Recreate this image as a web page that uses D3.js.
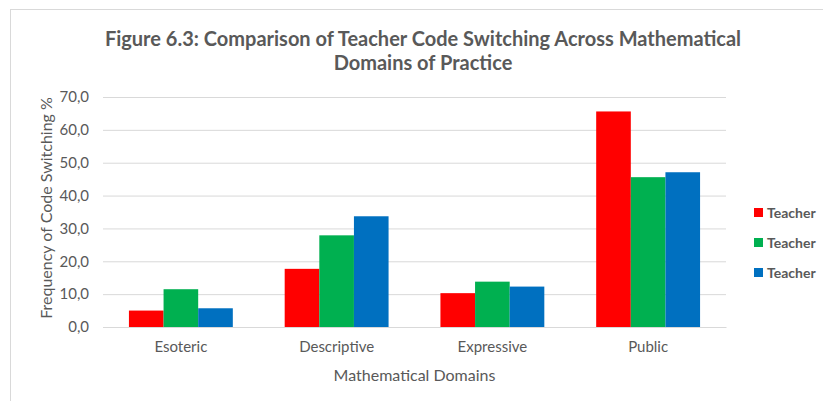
<!DOCTYPE html>
<html>
<head>
<meta charset="utf-8">
<script src="https://cdn.jsdelivr.net/npm/d3@7"></script>
<style>
  body { margin: 0; background: #fff; }
  text { font-family: Lato, "Open Sans", sans-serif; fill: #595959; }
</style>
</head>
<body>
<svg id="chart" width="823" height="401"></svg>
<script>
// data
var domains = ["Esoteric", "Descriptive", "Expressive", "Public"];
var seriesNames = ["Teacher", "Teacher", "Teacher"];
var seriesColors = ["#FF0000", "#00B050", "#0070C0"];
var teacherA = [5.0, 17.7, 10.3, 65.6];
var teacherB = [11.5, 27.9, 13.8, 45.6];
var teacherC = [5.7, 33.7, 12.3, 47.1];
var yTicks = [0, 10, 20, 30, 40, 50, 60, 70];

var series = [teacherA, teacherB, teacherC];

var margin = {top: 97, right: 97, bottom: 74, left: 103},
    width = 823 - margin.left - margin.right,
    height = 401 - margin.top - margin.bottom;

var svg = d3.select("#chart");

// chart frame
svg.append("rect")
    .attr("x", 10.5).attr("y", 9.5)
    .attr("width", 830).attr("height", 420)
    .attr("fill", "none")
    .attr("stroke", "#D9D9D9");

svg.append("text")
    .attr("x", 423).attr("y", 46)
    .attr("text-anchor", "middle")
    .style("font-size", "20px").style("font-weight", "bold")
    .text("Figure 6.3: Comparison of Teacher Code Switching Across Mathematical");
svg.append("text")
    .attr("x", 423).attr("y", 70)
    .attr("text-anchor", "middle")
    .style("font-size", "20px").style("font-weight", "bold")
    .text("Domains of Practice");

var g = svg.append("g")
    .attr("transform", "translate(" + margin.left + "," + margin.top + ")");

var x = d3.scaleBand()
    .domain(domains)
    .range([0, width])
    .paddingInner(0.333)
    .paddingOuter(0.1665);

var xs = d3.scaleBand()
    .domain(d3.range(series.length))
    .range([0, x.bandwidth()]);

var y = d3.scaleLinear()
    .domain([0, 70])
    .range([height, 0]);

// gridlines
var yAxis = d3.axisLeft(y)
    .tickValues(yTicks)
    .tickSize(-width)
    .tickPadding(14)
    .tickFormat(function(d) { return d3.format(".1f")(d).replace(".", ","); });

var ya = g.append("g").call(yAxis);
ya.select(".domain").remove();
ya.selectAll(".tick line").attr("stroke", "#D9D9D9");
ya.selectAll(".tick text").style("font-size", "15px").style("fill", "#595959");

var groups = g.selectAll(".grp")
    .data(domains)
  .enter().append("g")
    .attr("class", "grp")
    .attr("transform", function(d) { return "translate(" + x(d) + ",0)"; });

groups.selectAll("rect")
    .data(function(d, i) { return series.map(function(s, k) { return {k: k, v: s[i]}; }); })
  .enter().append("rect")
    .attr("x", function(d) { return xs(d.k); })
    .attr("width", xs.bandwidth())
    .attr("y", function(d) { return y(d.v); })
    .attr("height", function(d) { return height - y(d.v); })
    .attr("fill", function(d) { return seriesColors[d.k]; });

var xAxis = d3.axisBottom(x).tickSize(0).tickPadding(14);
var xa = g.append("g")
    .attr("transform", "translate(0," + height + ")")
    .call(xAxis);
xa.select(".domain").attr("stroke", "#D9D9D9");
xa.selectAll(".tick text").style("font-size", "15px").style("fill", "#595959");

svg.append("text")
    .attr("x", margin.left + width / 2).attr("y", 381)
    .attr("text-anchor", "middle")
    .style("font-size", "16px")
    .text("Mathematical Domains");

svg.append("text")
    .attr("transform", "translate(52," + (margin.top + height / 2 - 4) + ") rotate(-90)")
    .attr("text-anchor", "middle")
    .style("font-size", "16px")
    .text("Frequency of Code Switching %");

// legend
var legend = svg.selectAll(".leg")
    .data(seriesNames)
  .enter().append("g")
    .attr("class", "leg")
    .attr("transform", function(d, i) { return "translate(754," + (213 + i * 30) + ")"; });

legend.append("rect")
    .attr("x", 0).attr("y", -5)
    .attr("width", 9).attr("height", 9)
    .attr("fill", function(d, i) { return seriesColors[i]; });

legend.append("text")
    .attr("x", 13).attr("y", 5)
    .style("font-size", "14px").style("font-weight", "bold")
    .text(function(d) { return d; });
</script>
</body>
</html>
